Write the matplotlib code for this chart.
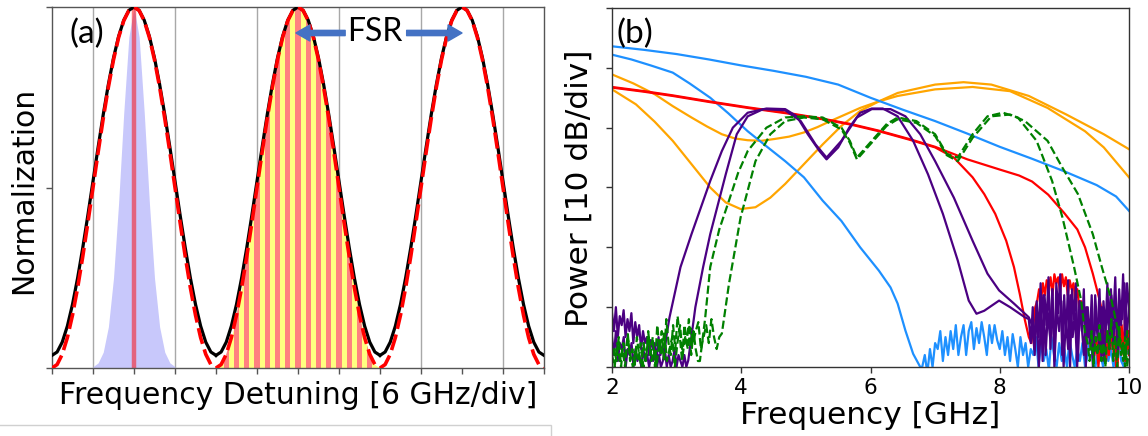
import numpy as np
import matplotlib
matplotlib.use("Agg")
import matplotlib.pyplot as plt
from matplotlib.patches import Rectangle, FancyArrowPatch

# ---------------- panel (a): cavity transmission vs detuning ----------------
# offsets from a resonance over one free spectral range, in divisions (6 GHz/div)
fsr_offsets = [-2.0, -1.875, -1.75, -1.625, -1.5, -1.375, -1.25, -1.125, -1.0,
               -0.875, -0.75, -0.625, -0.5, -0.375, -0.25, -0.125, 0.0,
               0.125, 0.25, 0.375, 0.5, 0.625, 0.75, 0.875, 1.0,
               1.125, 1.25, 1.375, 1.5, 1.625, 1.75, 1.875, 2.0]
# measured transmission (solid black)
transmission = [0.035, 0.0443, 0.0717, 0.1163, 0.1763, 0.2494, 0.3329, 0.4234, 0.5175,
                0.6116, 0.7022, 0.7856, 0.8587, 0.9187, 0.9633, 0.9907, 1.0,
                0.9907, 0.9633, 0.9187, 0.8587, 0.7856, 0.7022, 0.6116, 0.5175,
                0.4234, 0.3329, 0.2494, 0.1763, 0.1163, 0.0717, 0.0443, 0.035]
# model transmission (dashed red)
model = [0.0, 0.0096, 0.0381, 0.0843, 0.1464, 0.2222, 0.3087, 0.4025, 0.5,
         0.5976, 0.6913, 0.7778, 0.8536, 0.9157, 0.9619, 0.9904, 1.0,
         0.9904, 0.9619, 0.9157, 0.8536, 0.7778, 0.6913, 0.5976, 0.5,
         0.4025, 0.3087, 0.2222, 0.1464, 0.0843, 0.0381, 0.0096, 0.0]
resonance_centers = [2, 6, 10]

# input pulse spectrum around the first resonance
pulse_offsets = [-1.0, -0.875, -0.75, -0.625, -0.5, -0.375, -0.25, -0.125, 0.0,
                 0.125, 0.25, 0.375, 0.5, 0.625, 0.75, 0.875, 1.0]
pulse_spectrum = [0.0039, 0.0142, 0.044, 0.114, 0.249, 0.458, 0.707, 0.917, 1.0,
                  0.917, 0.707, 0.458, 0.249, 0.114, 0.044, 0.0142, 0.0039]
carrier = 2.0

# comb lines filling the middle resonance
comb_lines = [4.25, 4.5, 4.75, 5.0, 5.25, 5.5, 5.75, 6.0, 6.25, 6.5, 6.75,
              7.0, 7.25, 7.5, 7.75]
comb_center = 6
fsr_arrow_left = (7.15, 5.95)
fsr_arrow_right = (8.65, 10.0)

# ---------------- panel (b): measured RF spectra ----------------
# smooth parts: (frequency GHz, power dB); noise floors: values on an even grid
blue_hi_f = [2.0, 2.5, 3.0, 3.5, 4.0, 4.5, 5.0, 5.5, 6.0, 6.5, 7.0, 7.5, 8.0, 8.5, 9.0, 9.5, 9.8, 10.0]
blue_hi_p = [-6.4, -7.0, -7.7, -8.6, -9.6, -10.5, -11.5, -12.8, -15.0, -17.0, -18.9, -21.0,
             -23.2, -25.2, -27.3, -29.6, -31.5, -33.9]

blue_lo_f = [2.0, 2.3, 2.6, 2.94, 3.2, 3.52, 3.8, 4.10, 4.4, 4.68, 4.97, 5.26, 5.55, 5.84,
             6.13, 6.31, 6.42, 6.54, 6.66, 6.77]
blue_lo_p = [-7.8, -8.6, -9.6, -10.8, -12.6, -15.0, -17.6, -20.6, -23.2, -25.6, -28.3, -32.2,
             -35.6, -40.0, -43.9, -46.7, -49.4, -53.9, -57.8, -60.0]
blue_lo_noise = [-60, -58, -61, -57, -60, -56,
                 -57, -54, -59, -55, -58, -54, -57, -53, -58,
                 -55, -53, -58, -54, -52.5, -57, -53.5, -56, -52.5, -55, -58, -53, -56, -53, -55.5,
                 -57, -54, -58, -55, -59, -54.5, -57, -60, -55, -58, -56, -60, -57,
                 -58, -55, -60, -56, -59, -57, -60.5, -55, -58, -60, -56, -59, -57, -60, -55.5,
                 -58, -60, -57, -59, -56, -60, -58, -55, -59, -60, -57, -58, -60, -56, -59, -57,
                 -60, -58, -56, -59, -60, -57, -58]

orange_a_f = [2.0, 2.37, 2.66, 2.94, 3.23, 3.52, 3.76, 3.99, 4.22, 4.45, 4.68, 4.97, 5.26,
              5.55, 5.84, 6.13, 6.42, 7.0, 7.44, 7.87, 8.45, 9.03, 9.61, 10.0]
orange_a_p = [-13.6, -16.1, -19.0, -22.2, -26.1, -30.0, -32.5, -33.6, -33.3, -31.7, -29.4,
              -26.1, -22.8, -19.7, -17.2, -15.6, -14.2, -12.8, -12.4, -12.8, -14.7, -17.8,
              -21.1, -23.6]
orange_b_f = [2.0, 2.33, 2.66, 2.94, 3.23, 3.47, 3.70, 3.90, 4.10, 4.31, 4.51, 4.74, 4.97,
              5.18, 5.38, 5.61, 5.84, 6.13, 6.42, 7.0, 7.58, 8.16, 8.74, 9.32, 9.61, 10.0]
orange_b_p = [-11.1, -12.6, -14.4, -16.4, -18.3, -19.8, -21.1, -21.8, -22.1, -22.2, -21.9,
              -21.5, -20.8, -19.9, -18.9, -17.8, -16.7, -15.6, -14.7, -13.6, -13.2, -13.9,
              -16.7, -20.6, -23.3, -28.3]

red_a_f = [2.0, 2.5, 2.94, 3.5, 4.10, 4.7, 5.26, 5.7, 6.13, 6.6, 7.0, 7.29, 7.58, 7.76, 7.93,
           8.10, 8.22, 8.31, 8.39, 8.45]
red_a_p = [-13.3, -14.0, -14.7, -15.7, -16.7, -17.6, -18.6, -19.5, -20.6, -22.0, -23.3,
           -25.0, -28.3, -31.1, -34.4, -38.9, -43.3, -47.8, -52.2, -55.0]
red_a_noise = [-56, -53, -50, -49, -47, -49, -46, -48, -45.5, -47, -45, -48, -44.5, -46, -45,
               -47.5, -44.5, -46.5, -45, -48, -45.5, -47, -46, -49, -47, -50, -49, -52, -51,
               -55, -53, -57, -54, -58, -55, -60, -56, -58, -54, -59, -55, -57, -52, -58, -56,
               -60, -53, -57, -55, -59, -54, -58]
red_b_f = [2.0, 2.5, 2.94, 3.5, 4.10, 4.7, 5.26, 5.7, 6.13, 6.6, 7.0, 7.5, 8.0, 8.3, 8.5,
           8.75, 9.0, 9.2, 9.32, 9.44, 9.55, 9.62]
red_b_p = [-13.2, -13.9, -14.6, -15.6, -16.6, -17.5, -18.5, -19.4, -20.5, -21.9, -23.2,
           -25.3, -27.0, -28.0, -29.0, -31.2, -34.3, -37.0, -40.0, -44.4, -49.0, -53.0]
red_b_noise = [-55, -58, -52, -57, -54, -60, -51, -56, -53, -58, -50, -57, -54]

purple_a_noise_left = [-51, -54, -50, -55, -51.5, -53, -50.5, -55, -52, -54, -51, -56, -52.5,
                       -55, -53, -57, -54, -56, -55, -58, -55.5, -57, -56, -59, -55, -58,
                       -56.5, -58, -55]
purple_a_f = [2.89, 3.06, 3.23, 3.52, 3.70, 3.87, 4.10, 4.39, 4.68, 4.86, 5.03, 5.21, 5.32,
              5.50, 5.67, 5.84, 6.02, 6.19, 6.42, 6.66, 6.89, 7.12, 7.35, 7.52, 7.64, 7.76,
              7.99, 8.16, 8.39]
purple_a_p = [-51.7, -43.3, -37.8, -28.9, -23.9, -20.0, -17.5, -16.8, -16.9, -18.1, -21.1,
              -23.9, -25.3, -23.3, -20.0, -17.5, -16.8, -16.8, -18.1, -22.2, -27.8, -34.4,
              -42.2, -48.9, -51.1, -50.6, -48.9, -50.0, -51.7]
purple_a_noise_right = [-52, -56, -50, -58, -49, -55, -46, -59, -48, -53, -45, -57, -47, -60,
                        -46, -51, -44.5, -58, -48, -55, -45.5, -60, -47, -52, -46, -59, -49,
                        -54, -47, -60, -50, -56, -48, -58, -51, -55, -47, -59, -49, -54, -46,
                        -57, -48, -52, -45, -56, -47, -53, -44.5, -55, -46, -50]

purple_b_noise_left = [-55, -58, -54, -59, -56, -57, -55, -60, -57, -58, -56, -60, -57, -59,
                       -58, -60, -57, -59, -58, -60, -58, -59, -57, -60, -58, -60, -59, -57,
                       -60, -58, -60, -59, -57, -60, -58, -59, -60, -58, -60]
purple_b_f = [3.18, 3.29, 3.41, 3.52, 3.76, 3.93, 4.10, 4.34, 4.68, 4.92, 5.15, 5.32, 5.55,
              5.79, 6.02, 6.31, 6.54, 6.77, 7.0, 7.29, 7.58, 7.81, 7.99, 8.22, 8.45]
purple_b_p = [-58.9, -50.0, -43.3, -37.8, -27.8, -21.1, -18.1, -16.9, -17.1, -18.9, -22.8,
              -25.0, -22.2, -18.3, -16.9, -16.9, -18.1, -21.1, -25.6, -31.7, -38.9, -44.4,
              -47.2, -49.4, -51.7]
purple_b_noise_right = [-53, -57, -50, -60, -52, -48, -58, -51, -55, -47, -59, -50, -54, -49,
                        -60, -52, -57, -48, -55, -51, -60, -49, -53, -58, -50, -55, -52, -60,
                        -48, -54, -57, -50, -59, -51, -53, -47, -56, -50, -58, -49, -52, -46,
                        -55, -50]

green_a_noise_left = [-60, -57, -59, -55, -60, -56, -58, -54.5, -59, -57, -60, -55, -58, -60,
                      -56, -59, -54, -58, -55, -60, -53, -57, -54, -59, -52, -56, -58, -53,
                      -57, -51.5, -55, -59, -53, -56, -52, -58, -54, -57, -59]
green_a_f = [3.36, 3.44, 3.52, 3.66, 3.81, 3.95, 4.10, 4.39, 4.68, 4.97, 5.26, 5.55, 5.68,
             5.79, 6.02, 6.25, 6.42, 6.71, 7.0, 7.18, 7.35, 7.58, 7.81, 8.05, 8.28, 8.57,
             8.81, 8.97, 9.15, 9.26, 9.32]
green_a_p = [-59.0, -52.0, -43.3, -37.0, -32.2, -27.6, -23.9, -20.0, -18.3, -18.1, -18.3,
             -20.0, -22.2, -25.0, -22.2, -19.4, -18.3, -18.9, -21.1, -24.4, -25.0, -21.1,
             -18.1, -17.5, -18.3, -22.2, -28.9, -35.0, -43.3, -48.9, -54.4]
green_a_noise_right = [-56, -59, -54, -60, -55, -58, -53, -59, -56, -60, -54, -57, -52, -59,
                       -55, -60, -53, -58, -56, -60, -54, -57]

green_b_noise_left = [-58, -60, -56, -59, -57, -60, -55, -58, -60, -57, -59, -56, -60, -58,
                      -55, -59, -57, -60, -56, -58, -54, -59, -57, -55, -60, -56, -53, -58,
                      -55, -57, -53.5, -56, -54, -52.5, -57, -55, -53, -56, -52, -55, -57, -55]
green_b_f = [3.70, 3.81, 3.99, 4.22, 4.45, 4.68, 4.97, 5.26, 5.55, 5.68, 5.79, 6.02, 6.25,
             6.42, 6.71, 7.0, 7.18, 7.35, 7.58, 7.87, 8.16, 8.39, 8.74, 8.97, 9.21, 9.44,
             9.58, 9.73, 9.84]
green_b_p = [-54.4, -46.1, -35.0, -25.6, -21.1, -18.9, -18.3, -18.6, -20.3, -22.5, -25.3,
             -22.5, -19.7, -18.6, -19.2, -21.4, -24.6, -25.6, -21.7, -18.1, -17.8, -18.9,
             -22.2, -26.7, -31.1, -37.8, -43.3, -48.9, -54.4]
green_b_noise_right = [-56, -59, -55, -60, -57]

freq_ticks = [2, 4, 6, 8, 10]
power_ticks = [-60, -50, -40, -30, -20, -10, 0]

BLUE = "#1e90ff"
ORANGE = "#ffa500"
RED = "#ff0000"
PURPLE = "#4b0082"
GREEN = "#008000"


def trace(*parts):
    """Join smooth (freqs, powers) pieces and noise floors given as (start, stop, values)."""
    xs, ys = [], []
    for part in parts:
        if len(part) == 3:
            start, stop, vals = part
            xs.extend(np.linspace(start, stop, len(vals)))
            ys.extend(vals)
        else:
            xs.extend(part[0])
            ys.extend(part[1])
    return np.array(xs), np.array(ys)


W, H = 1148, 436
fig = plt.figure(figsize=(W / 100, H / 100), dpi=100)

# ---- panel (a) ----
axa = fig.add_axes([52 / W, 1 - 368 / H, 492 / W, 361 / H])
axa.set_xlim(0, 12)
axa.set_ylim(0, 1)

# pulse spectrum and carrier
px = carrier + np.array(pulse_offsets)
axa.fill_between(px, 0, pulse_spectrum, color="#c8c8fb", lw=0, zorder=1)
axa.plot([carrier, carrier], [0, 1], color=RED, alpha=0.5, lw=3.2, zorder=2,
         solid_capstyle="butt")

# comb filling the middle resonance
mx = comb_center + np.array(fsr_offsets)
fill = axa.fill_between(mx, 0, model, color="#ffff80", lw=0, zorder=1)
clip = fill.get_paths()[0]
for c in comb_lines:
    span = axa.axvspan(c - 0.065, c + 0.065, color="#ff8080", lw=0, zorder=1.5)
    span.set_clip_path(clip, axa.transData)

for c in resonance_centers:
    x = c + np.array(fsr_offsets)
    axa.plot(x, transmission, color="black", lw=2.3, zorder=3)
    axa.plot(x, model, color=RED, lw=2.6, ls=(0, (4.5, 1.6)), zorder=4)

axa.set_xticks(range(13))
axa.set_xticklabels([])
axa.set_yticks([0, 0.5, 1.0])
axa.set_yticklabels([])
for g in [1, 3, 5, 7, 9, 11]:
    axa.axvline(g, color="#a8a8a8", lw=1.0, zorder=0.5)
axa.tick_params(color="#555555", length=4, width=1)
for s in axa.spines.values():
    s.set_color("#555555")
    s.set_linewidth(1.0)

axa.text(87 / W, 1 - 34 / H, "(a)", transform=fig.transFigure, ha="center", va="center",
         fontsize=24, family=["Lato", "DejaVu Sans"])
axa.text(375 / W, 1 - 32 / H, "FSR", transform=fig.transFigure, ha="center", va="center",
         fontsize=23, family=["Lato", "DejaVu Sans"], zorder=6)
for a, b in (fsr_arrow_left, fsr_arrow_right):
    arr = FancyArrowPatch((a, 0.928), (b, 0.928),
                          arrowstyle="simple,head_length=1.0,head_width=1.15,tail_width=0.38",
                          mutation_scale=10, color="#4472c4", shrinkA=0, shrinkB=0, zorder=6)
    axa.add_patch(arr)

fig.text(298 / W, 1 - 395 / H, "Frequency Detuning [6 GHz/div]", ha="center", va="center",
         fontsize=21.5)
fig.text(24 / W, 1 - 190 / H, "Normalization", ha="center", va="center", rotation=90,
         fontsize=21.5)

# ---- panel (b) ----
axb = fig.add_axes([612 / W, 1 - 367 / H, 517 / W, 359 / H])
axb.set_xlim(2, 10)
axb.set_ylim(-60, 0)

lw = 1.6
axb.plot(orange_a_f, orange_a_p, color=ORANGE, lw=lw)
axb.plot(orange_b_f, orange_b_p, color=ORANGE, lw=lw)
axb.plot(blue_hi_f, blue_hi_p, color=BLUE, lw=lw)
axb.plot(*trace((blue_lo_f, blue_lo_p), (6.80, 10.0, blue_lo_noise)), color=BLUE, lw=lw)
axb.plot(*trace((red_a_f, red_a_p), (8.49, 10.0, red_a_noise)), color=RED, lw=lw)
axb.plot(*trace((red_b_f, red_b_p), (9.66, 10.0, red_b_noise)), color=RED, lw=lw)
axb.plot(*trace((2.0, 2.84, purple_a_noise_left), (purple_a_f, purple_a_p),
                (8.45, 10.0, purple_a_noise_right)), color=PURPLE, lw=lw)
axb.plot(*trace((2.0, 3.15, purple_b_noise_left), (purple_b_f, purple_b_p),
                (8.50, 10.0, purple_b_noise_right)), color=PURPLE, lw=lw)
axb.plot(*trace((2.0, 3.33, green_a_noise_left), (green_a_f, green_a_p),
                (9.36, 10.0, green_a_noise_right)), color=GREEN, lw=lw, ls="--")
axb.plot(*trace((2.0, 3.66, green_b_noise_left), (green_b_f, green_b_p),
                (9.88, 10.0, green_b_noise_right)), color=GREEN, lw=lw, ls="--")

axb.set_xticks(freq_ticks)
axb.set_xticklabels([str(t) for t in freq_ticks], fontsize=15.5)
axb.set_yticks(power_ticks)
axb.set_yticklabels([])
axb.tick_params(color="#333333", length=4, width=1, pad=4)
for s in axb.spines.values():
    s.set_color("#333333")
    s.set_linewidth(1.0)

axb.text(635 / W, 1 - 34 / H, "(b)", transform=fig.transFigure, ha="center", va="center",
         fontsize=24, family=["Lato", "DejaVu Sans"])
fig.text(870 / W, 1 - 415 / H, "Frequency [GHz]", ha="center", va="center", fontsize=22.5)
fig.text(579 / W, 1 - 188 / H, "Power [10 dB/div]", ha="center", va="center", rotation=90,
         fontsize=22.5)

# thin frame beneath panel (a)
fig.patches.append(Rectangle((-0.01, -0.05), 551 / W + 0.01, 0.05 + 11.5 / H,
                             transform=fig.transFigure, fill=False, ec="#d0d0d0", lw=1.0))

fig.savefig("out.png", dpi=100)
